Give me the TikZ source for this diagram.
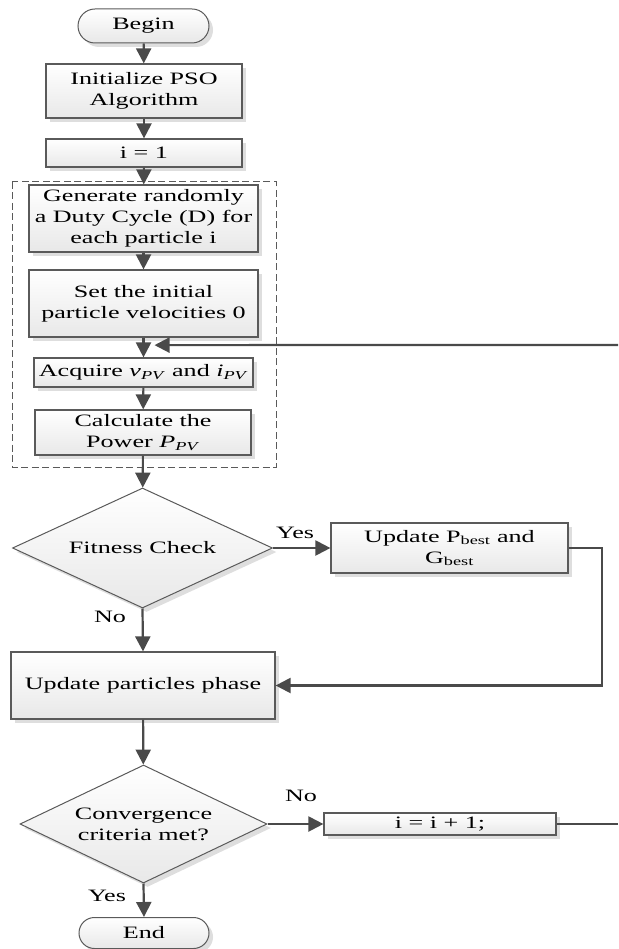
\documentclass[tikz,border=0pt]{standalone}
\usepackage{fontspec}
\setmainfont{Liberation Serif}[FakeStretch=1.5]
\usetikzlibrary{arrows.meta,shapes.geometric,shapes.misc,shadows,calc}
\definecolor{ln}{HTML}{4A4A4A}
\definecolor{bd}{HTML}{5A5A5A}
\begin{document}
\begin{tikzpicture}[x=1pt,y=-1pt,
  every node/.style={font=\fontsize{17.4}{21}\selectfont, text=black},
  shade/.style={top color=white, bottom color=black!9},
  shad/.style={drop shadow={shadow xshift=4pt,shadow yshift=-4pt,fill=black!13,opacity=1}},
  box/.style={draw=bd, line width=1.2pt, shade, shad, align=center, inner sep=0pt, rectangle},
  term/.style={draw=bd, line width=1.0pt, shade, shad, rounded rectangle, inner sep=0pt},
  dec/.style={draw=bd, line width=1.0pt, shade, shad, diamond, shape aspect=2.1, inner sep=0pt, align=center},
  arr/.style={draw=ln, line width=2.2pt, -{Triangle[length=15pt,width=15pt]}},
  conn/.style={draw=ln, line width=2.2pt},
  lbl/.style={inner sep=0pt}
]
\useasboundingbox (0,0) rectangle (618,949);
% dashed group
\draw[bd, line width=1pt, dash pattern=on 7pt off 3.5pt] (12,182) rectangle (276,467);

\node[term, minimum width=131, minimum height=34] (begin) at (143.5,26) {Begin};
\node[box, minimum width=196, minimum height=54] (init) at (144,91) {Initialize PSO\\Algorithm};
\node[box, minimum width=196, minimum height=28] (i1) at (144,153) {i = 1};
\node[box, minimum width=229, minimum height=67] (gen) at (143.5,218.5) {Generate randomly\\a Duty Cycle (D) for\\each particle i};
\node[box, minimum width=229, minimum height=67] (set) at (143.5,303.5) {Set the initial\\particle velocities 0};
\node[box, minimum width=219, minimum height=29] (acq) at (143.5,372.5) {Acquire \textit{v}\textsubscript{\textit{PV}} and \textit{i}\textsubscript{\textit{PV}}};
\node[box, minimum width=216, minimum height=45] (calc) at (143,432.5) {Calculate the\\Power \textit{P}\textsubscript{\textit{PV}}};
\node[dec, minimum width=260, minimum height=120] (fit) at (142.5,548) {Fitness Check};
\node[box, minimum width=237, minimum height=50] (pbest) at (449.5,548) {Update P\textsubscript{best} and\\G\textsubscript{best}};
\node[box, minimum width=264, minimum height=67] (upd) at (143,685.5) {Update particles phase};
\node[dec, minimum width=247, minimum height=118] (conv) at (143.5,824) {Convergence\\criteria met?};
\node[box, minimum width=232, minimum height=22] (inc) at (440,824) {i = i + 1;};
\node[term, minimum width=130, minimum height=31] (end) at (144,933) {End};

\node[lbl] (yes1) at (295,533) {Yes};
\node[lbl] (no1) at (110,617) {No};
\node[lbl] (no2) at (301,796) {No};
\node[lbl] (yes2) at (107,896) {Yes};

\coordinate (outA) at (618,824);
\coordinate (outB) at (618,345);

\draw[arr] (begin) -- (init);
\draw[arr] (init) -- (i1);
\draw[arr] (i1) -- (gen);
\draw[arr] (gen) -- (set);
\draw[arr] (set) -- (acq);
\draw[arr] (acq) -- (calc);
\draw[arr] (calc) -- (fit);
\draw[arr] (fit.east) -- (pbest.west);
\draw[arr] (fit.south) -- (upd.north);
\draw[arr] (pbest.east) -- ++(33,0) |- (upd.east);
\draw[arr] (upd) -- (conv);
\draw[arr] (conv.east) -- (inc.west);
\draw[arr] (conv.south) -- (end.north);
\draw[conn] (inc.east) -- (outA);
\draw[arr] (outB) -- ([xshift=11pt]$(set.south)!0.38!(acq.north)$);
\end{tikzpicture}
\end{document}
